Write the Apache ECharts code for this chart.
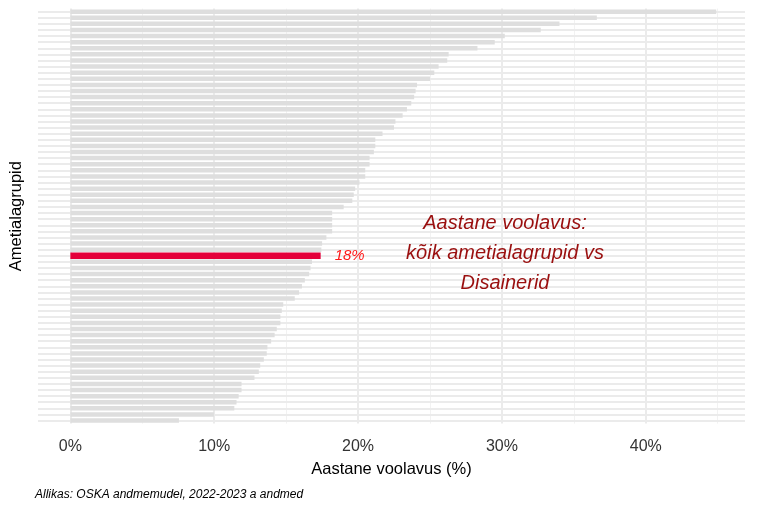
<!DOCTYPE html>
<html><head><meta charset="utf-8">
<script src="https://cdn.jsdelivr.net/npm/echarts@6/dist/echarts.min.js"></script>
<style>html,body{margin:0;padding:0;background:#fff}#c{width:768px;height:512px}</style>
</head><body><div id="c"></div>
<script>
const values = [44.9,36.6,34.0,32.7,30.2,29.5,28.3,26.3,26.2,25.6,25.3,25.0,24.1,24.0,23.9,23.7,23.4,23.1,
22.6,22.5,21.7,21.2,21.2,21.1,20.8,20.8,20.5,20.5,20.1,19.8,19.7,19.6,19.0,18.2,
18.2,18.2,18.2,17.8,17.5,17.45,17.4,16.8,16.7,16.6,16.3,16.1,15.9,15.6,14.8,14.7,14.6,
14.6,14.35,14.2,13.96,13.7,13.65,13.45,13.2,13.1,12.8,11.9,11.9,11.7,11.55,11.4,9.98,7.55];
const highlightIndex = 40;
const highlightName = "Disainerid";
const highlightLabel = "18%";
const categories = values.map((v,i)=> i===highlightIndex ? highlightName : "Ametialagrupp " + (i+1));
const majorTicks = [0,10,20,30,40];
const minorTicks = [5,15,25,35,45];
const tickLabels = ["0%","10%","20%","30%","40%"];

const grayData = values.map((v,i)=> i===highlightIndex ? '-' : v);
const redData = values.map((v,i)=> i===highlightIndex ? v : '-');

const chart = echarts.init(document.getElementById('c'));
const yBase = {type:'category', data:categories, inverse:true, axisLine:{show:false}, axisTick:{show:false}, axisLabel:{show:false}, splitLine:{show:false}};
const font = 'Liberation Sans';
chart.setOption({
  animation:false,
  grid:{left:35, right:23, top:8.6, height:415},
  xAxis:{type:'value', min:-2.25, max:46.9,
    axisLine:{show:false}, axisTick:{show:false}, splitLine:{show:false},
    axisLabel:{customValues:majorTicks, formatter:v=>tickLabels[majorTicks.indexOf(v)]||'', fontSize:16, color:'#333', margin:15, fontFamily:font},
    name:'Aastane voolavus (%)', nameLocation:'middle', nameGap:37,
    nameTextStyle:{fontSize:16.5, color:'#000', fontFamily:font}},
  yAxis:[Object.assign({}, yBase, {name:'Ametialagrupid', nameLocation:'middle', nameGap:13, nameRotate:90,
      nameTextStyle:{fontSize:16.5,color:'#000',fontFamily:font}}),
    Object.assign({}, yBase, {show:false})],
  series:[
    {type:'line', data:[], yAxisIndex:0, z:1, silent:true,
      markLine:{silent:true, symbol:'none', label:{show:false}, z:1, animation:false,
        data: majorTicks.map(v=>({xAxis:v, lineStyle:{color:'#ebebeb', width:2, type:'solid'}}))
          .concat(minorTicks.map(v=>({xAxis:v, lineStyle:{color:'#f2f2f2', width:1, type:'solid'}})))
          .concat(categories.map(c=>({yAxis:c, lineStyle:{color:'#ebebeb', width:2, type:'solid'}})))}},
    {type:'bar', data:grayData, yAxisIndex:0, barWidth:4.5, itemStyle:{color:'#dedede'}, z:3},
    {type:'bar', data:redData, yAxisIndex:1, barWidth:6.5, itemStyle:{color:'#e4003a'}, z:4,
      label:{show:true, position:'right', distance:14, formatter:()=>highlightLabel, color:'#ff1a1a', fontStyle:'italic', fontSize:15, fontFamily:font}}
  ],
  graphic:[
    {type:'text', z:100, style:{x:505, y:223, text:'Aastane voolavus:', textAlign:'center', textVerticalAlign:'middle', fill:'#9a0f0f', font:'italic 20px "Liberation Sans"'}},
    {type:'text', z:100, style:{x:505, y:253, text:'kõik ametialagrupid vs', textAlign:'center', textVerticalAlign:'middle', fill:'#9a0f0f', font:'italic 20px "Liberation Sans"'}},
    {type:'text', z:100, style:{x:505, y:283, text:'Disainerid', textAlign:'center', textVerticalAlign:'middle', fill:'#9a0f0f', font:'italic 20px "Liberation Sans"'}},
    {type:'text', z:100, style:{x:35, y:495, text:'Allikas: OSKA andmemudel, 2022-2023 a andmed', textVerticalAlign:'middle', fill:'#000', font:'italic 12px "Liberation Sans"'}}
  ]
});
</script></body></html>
